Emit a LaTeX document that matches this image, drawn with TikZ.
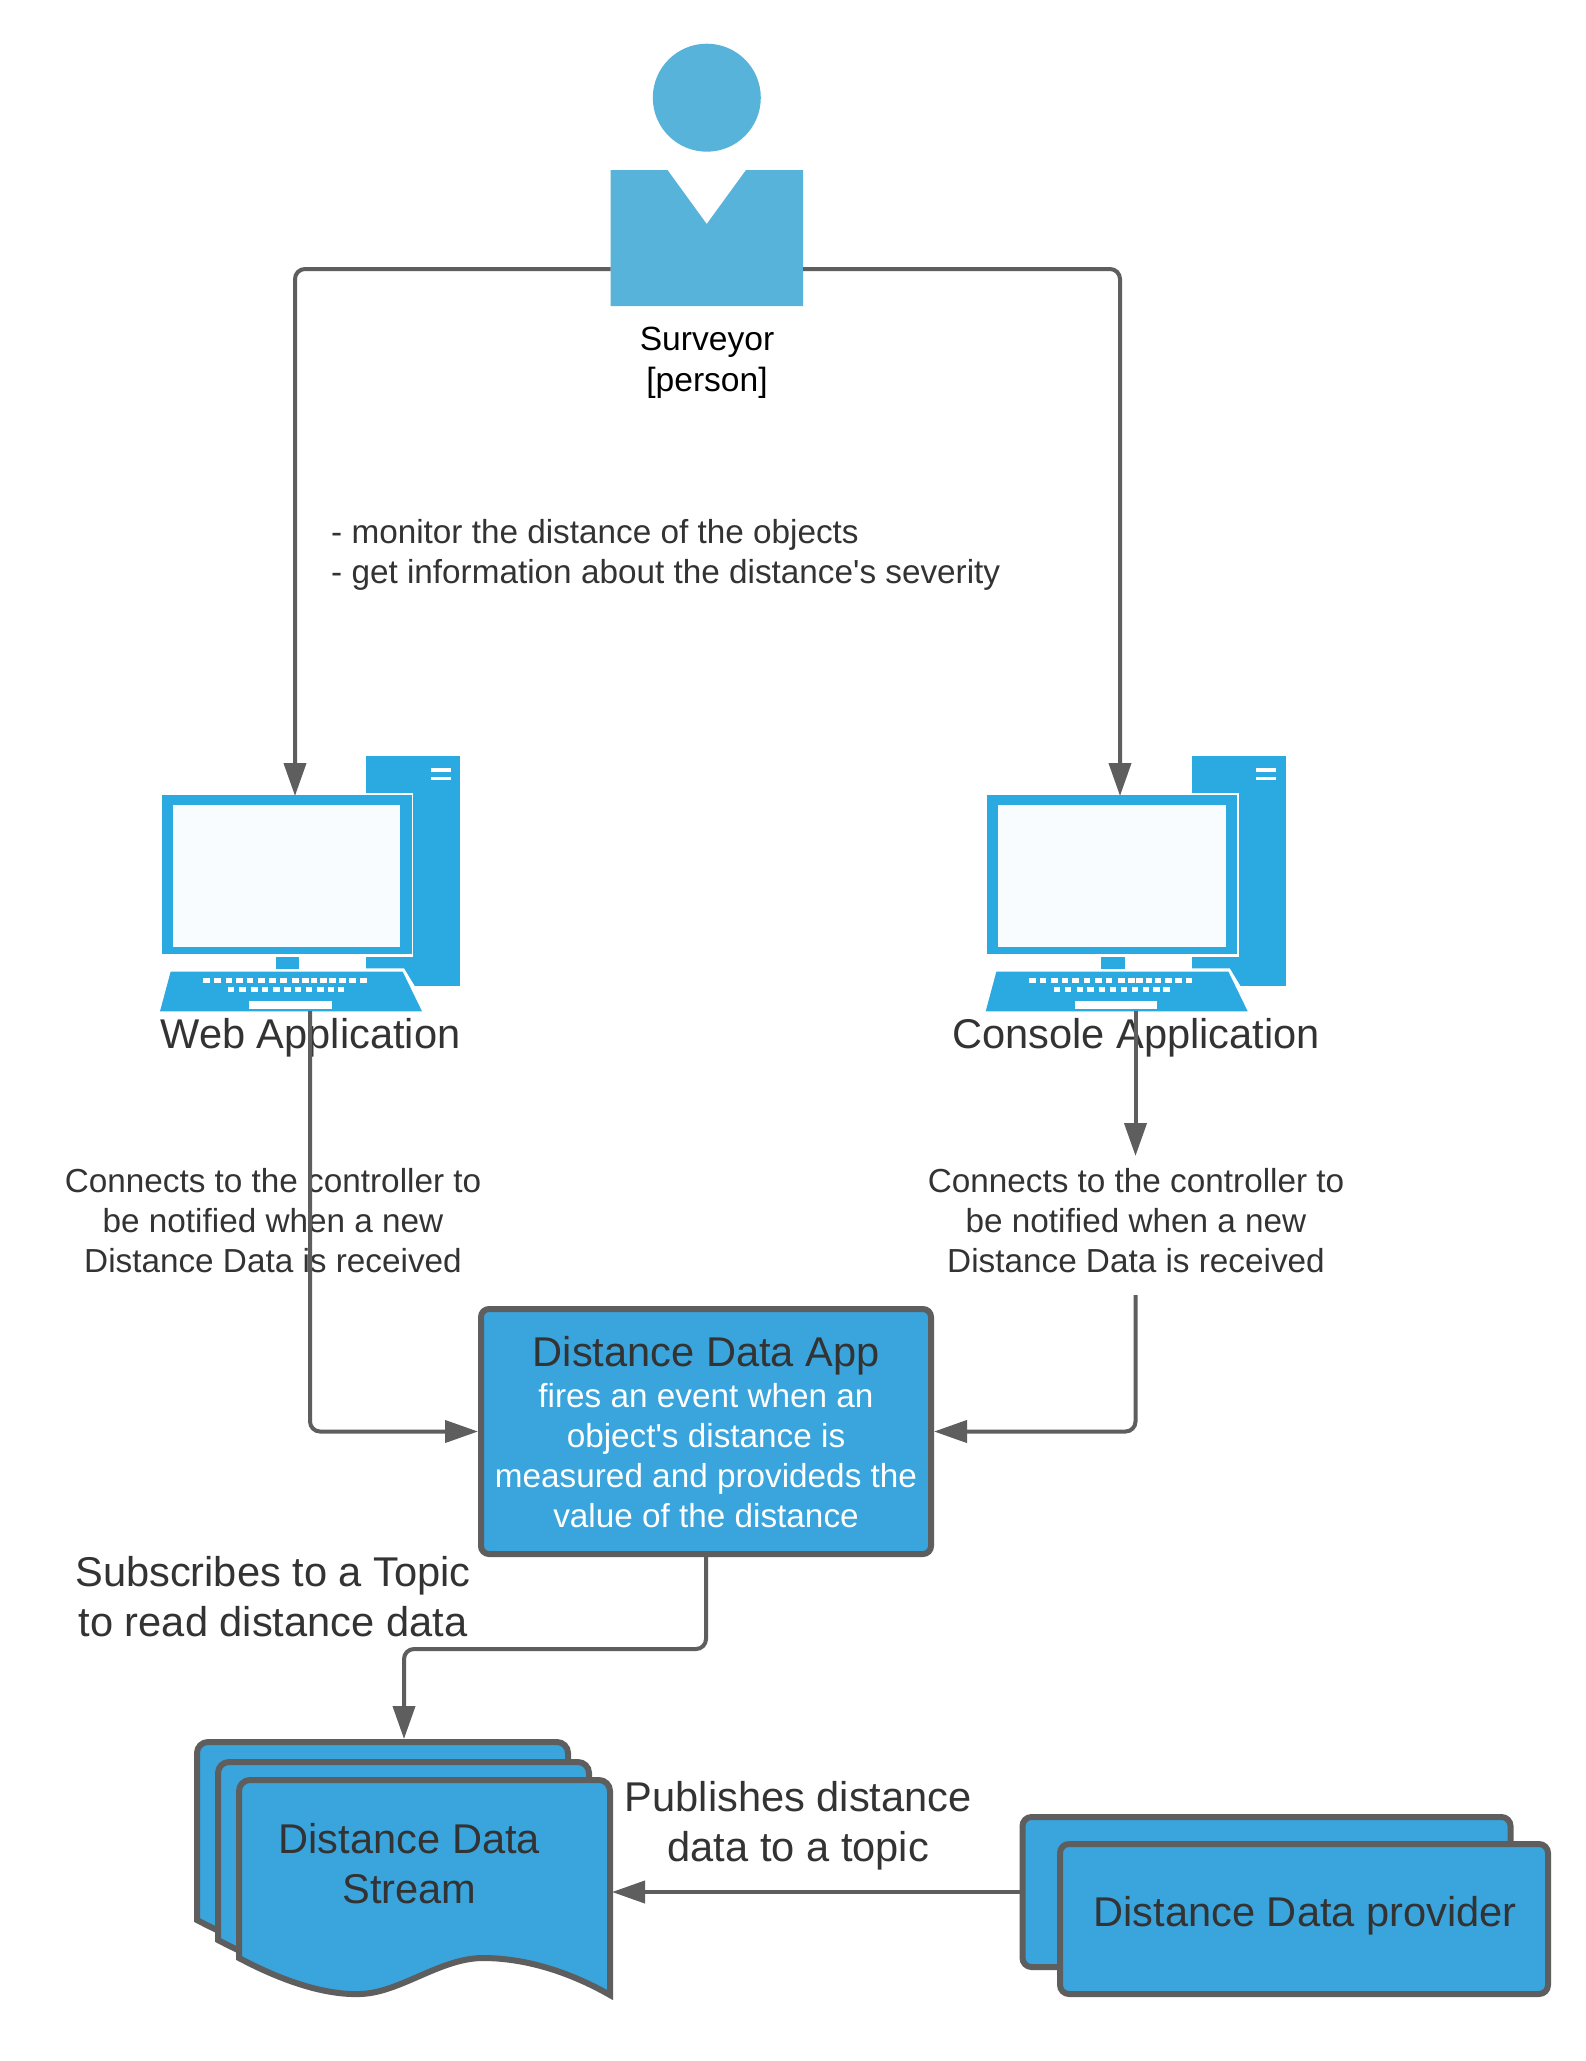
\documentclass[tikz,border=0pt]{standalone}
\usepackage{fontspec}
\newfontfamily\plainfam{Liberation Sans}
\usetikzlibrary{arrows.meta}
\definecolor{persblue}{HTML}{58B3DA}
\definecolor{pcblue}{HTML}{2BA9E1}
\definecolor{boxblue}{HTML}{3AA4DD}
\definecolor{edge}{HTML}{5E5E5E}
\definecolor{ink}{HTML}{333333}
\definecolor{screen}{HTML}{F9FCFE}
\tikzset{
  conn/.style={draw=edge,line width=4pt,rounded corners=10pt,-{Triangle[length=33pt,width=22pt]}},
  smalltext/.style={font=\plainfam\fontsize{33.3}{40}\selectfont,text=ink,inner sep=0pt,anchor=north,align=center,execute at begin node=\strut},
  largetext/.style={font=\plainfam\fontsize{41.6}{49.6}\selectfont,text=ink,inner sep=0pt,anchor=north,align=center,execute at begin node=\strut},
  panel/.style={draw=edge,fill=boxblue,line width=6pt,rounded corners=9pt,inner sep=0pt},
  sheet/.style={draw=edge,fill=boxblue,line width=6pt},
  vent/.style={fill=white}
}
\newcommand{\pcicon}[1]{%
  \begin{scope}[shift={(#1,740)},x=0.33333pt,y=-0.33333pt]
    \fill[pcblue] (678,48) rectangle (960,738);
    \fill[vent] (872,85) rectangle (932,95);
    \fill[vent] (872,110) rectangle (932,120);
    \fill[white] (600,650) rectangle (678,685);
    \fill[white] (300,158) rectangle (820,650);
    \fill[white] (678,685) -- (792,685) -- (824,738) -- (850,814) -- (678,814) -- cycle;
    \fill[white] (0,643) rectangle (678,695);
    \fill[pcblue] (678,650) rectangle (820,684);
    \fill[pcblue] (65,165) rectangle (815,643);
    \fill[screen] (98,195) rectangle (781,622);
    \fill[pcblue] (407,650) rectangle (478,688);
    \fill[pcblue] (92,695) -- (788,695) -- (846,814) -- (60,814) -- cycle;
    \foreach \kx in {190,222,257,288,320,354,388,420,457,487,512,540,567,598,628,660}
      \fill[vent] (\kx,714) rectangle ++(20,15);
    \foreach \kx in {264,298,334,365,400,433,465,498,532,563,593}
      \fill[vent] (\kx,741) rectangle ++(19,15);
    \fill[vent] (327,784) rectangle (575,806);
  \end{scope}}
\newcommand{\streamsheet}[2]{%
  \begin{scope}[shift={(#1,#2)}]
    \draw[sheet,line join=miter] (239,1958) {[rounded corners=11pt] -- (239,1780) -- (610,1780)} -- (610,1995)
      .. controls (575,1975) and (530,1958) .. (483,1958)
      .. controls (440,1958) and (400,1993) .. (360,1994)
      .. controls (330,1995) and (290,1985) .. (239,1958) -- cycle;
  \end{scope}}
\begin{document}
\begin{tikzpicture}[x=1pt,y=-1pt]
\useasboundingbox (0,0) rectangle (1585,2061);
\fill[white] (0,0) rectangle (1585,2061);

% Surveyor
\node[circle,fill=persblue,minimum size=108pt,inner sep=0pt] (head) at (706.8,97.7) {};
\fill[persblue] (610.5,170) -- (667.5,170) -- (706.7,224) -- (746,170) -- (803,170) -- (803,306) -- (610.5,306) -- cycle;
\node[inner sep=0pt,minimum width=192.5pt,minimum height=136pt] (surveyor) at (706.7,269) {};
\node[smalltext,text=black,font=\plainfam\fontsize{33.6}{40.4}\selectfont] (surveyorlabel) at (707,327) {Surveyor\\{}[person]};

% Computers
\pcicon{140}
\pcicon{965.7}
\coordinate (webtop) at (295,796);
\coordinate (consoletop) at (1120,796);
\coordinate (webbottom) at (310,1011);
\coordinate (consolebottom) at (1135.5,1011);
\node[largetext] (weblabel) at (310.5,1014) {Web Application};
\node[largetext] (consolelabel) at (1136.2,1014) {Console Application};

% annotation
\node[smalltext,align=left,anchor=north west] (duties) at (331,519) {- monitor the distance of the objects\\- get information about the distance's severity};
\node[smalltext] (webnote) at (273,1168) {Connects to the controller to\\be notified when a new\\Distance Data is received};
\node[smalltext] (consolenote) at (1136,1168) {Connects to the controller to\\be notified when a new\\Distance Data is received};

% App
\node[panel,minimum width=450pt,minimum height=245pt,rounded corners=8pt] (app) at (706,1431.5) {};
\node[largetext] (apptitle) at (706.3,1331.5) {Distance Data App};
\node[smalltext,text=white] (appdesc) at (706,1383) {fires an event when an\\object's distance is\\measured and provideds the\\value of the distance};

\node[largetext] (sublabel) at (273,1556.5) {Subscribes to a Topic\\to read distance data};
\node[largetext] (publabel) at (798.3,1781.5) {Publishes distance\\data to a topic};

% Stream
\streamsheet{-42}{-38}
\streamsheet{-21}{-18}
\streamsheet{0}{0}
\coordinate (streamtop) at (404,1739);
\coordinate (streameast) at (612,1893);
\node[largetext] (streamlabel) at (409.3,1823.5) {Distance Data\\Stream};

% Provider
\node[panel,minimum width=488pt,minimum height=150pt] (provback) at (1266.5,1892) {};
\node[panel,minimum width=488pt,minimum height=150pt] (provfront) at (1304,1919) {};
\node[largetext] (provlabel) at (1305.2,1892) {Distance Data provider};

% Connectors
\draw[conn] (610.5,269) -- (295,269) -- (webtop);
\draw[conn] (803,269) -- (1120,269) -- (consoletop);
\draw[conn] (webbottom) -- (310,1431.5) -- (app.west);
\draw[conn] (consolebottom) -- (1135.5,1156);
\draw[conn] (1135.5,1295) -- (1135.5,1431.5) -- (app.east);
\draw[conn] (app.south) -- (706,1649) -- (404,1649) -- (streamtop);
\draw[conn] (provback.west) -- (streameast |- provback.west);
\end{tikzpicture}
\end{document}
